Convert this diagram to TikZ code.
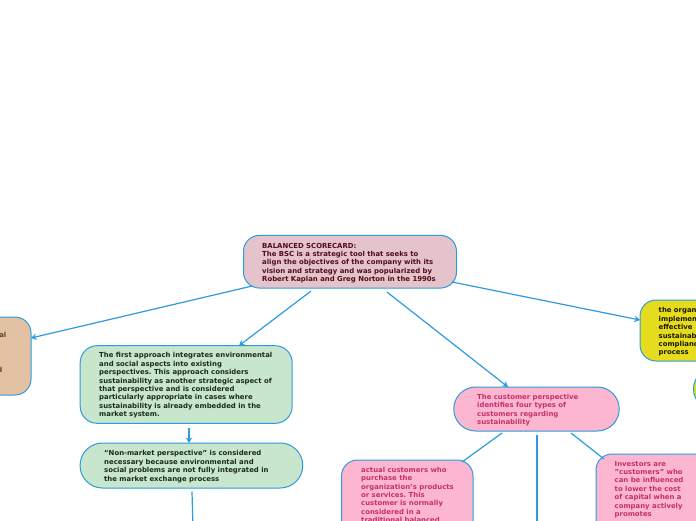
\documentclass[tikz,border=0pt]{standalone}
\usepackage{fontspec}
\setmainfont{DejaVu Sans}
\usetikzlibrary{arrows.meta}
\frenchspacing
\definecolor{edgeblue}{HTML}{2D9BE0}
\definecolor{rootfill}{HTML}{E4C4CA}
\definecolor{roottext}{HTML}{500C20}
\definecolor{tanfill}{HTML}{E2C2A2}
\definecolor{tantext}{HTML}{5A4634}
\definecolor{greenfill}{HTML}{C8E6CC}
\definecolor{greentext}{HTML}{1C2A1C}
\definecolor{pinkfill}{HTML}{FCB6D0}
\definecolor{pinktext}{HTML}{C4306C}
\definecolor{yellowfill}{HTML}{E4DC1C}
\definecolor{yellowtext}{HTML}{1A1A00}
\definecolor{limefill}{HTML}{D8E020}
\tikzset{
  box/.style={draw=edgeblue, line width=1pt, rectangle, inner sep=0pt, outer sep=0pt},
  txt/.style={anchor=north west, inner sep=0pt, align=left,
    font=\fontsize{6.9}{8.4}\selectfont\bfseries},
  link/.style={draw=edgeblue, line width=1.2pt},
  arr/.style={link, -{Stealth[length=5.5pt,width=6.5pt]}}
}
\begin{document}
\begin{tikzpicture}[x=1pt,y=-1pt]
\useasboundingbox (0,0) rectangle (696,520);
\clip (0,0) rectangle (696,520);
\fill[white] (0,0) rectangle (696,520);

% boxes
\node[box, fill=rootfill, rounded corners=16pt, minimum width=213pt, minimum height=52.7pt] (root) at (350,261.7) {};
\node[box, fill=tanfill, rounded corners=16pt, minimum width=121pt, minimum height=78pt] (tan) at (-29.5,356) {};
\node[box, fill=greenfill, rounded corners=17pt, minimum width=212pt, minimum height=77.6pt] (green1) at (186.2,384.5) {};
\node[box, fill=greenfill, rounded corners=22.5pt, minimum width=222.7pt, minimum height=45pt] (green2) at (191.4,465.5) {};
\node[box, fill=pinkfill, rounded corners=22pt, minimum width=165.5pt, minimum height=44pt] (cust) at (536.5,409) {};
\node[box, fill=yellowfill, rounded corners=16pt, minimum width=140pt, minimum height=61pt] (yellow) at (710,330.5) {};
\node[box, fill=limefill, rounded corners=21pt, minimum width=133pt, minimum height=42pt] (lime) at (760,389) {};
\node[box, fill=pinkfill, rounded corners=16pt, minimum width=131.5pt, minimum height=120pt] (actual) at (407.25,520) {};
\node[box, fill=pinkfill, rounded corners=16pt, minimum width=134pt, minimum height=126pt] (invest) at (663,517) {};

% texts
\node[txt, text=roottext] (rootT) at (262,242.8) {BALANCED SCORECARD:\\The BSC is a strategic tool that seeks to\\align the objectives of the company with its\\vision and strategy and was popularized by\\Robert Kaplan and Greg Norton in the 1990s};
\node[txt, anchor=base east, text=tantext] (tanA) at (6.5,337) {al};
\node[txt, anchor=base east, text=tantext] (tanB) at (2.5,372) {d};
\node[txt, text=greentext] (green1T) at (99,352.5) {The first approach integrates environmental\\and social aspects into existing\\perspectives. This approach considers\\sustainability as another strategic aspect of\\that perspective and is considered\\particularly appropriate in cases where\\sustainability is already embedded in the\\market system.};
\node[txt, text=greentext] (green2T) at (104,450.5) {“Non-market perspective” is considered\\necessary because environmental and\\social problems are not fully integrated in\\the market exchange process};
\node[txt, text=pinktext] (custT) at (477,393.8) {The customer perspective\\identifies four types of\\customers regarding\\sustainability};
\node[txt, text=yellowtext] (yellowT) at (658.5,307.5) {the organization\\implements\\effective\\sustainability\\compliance\\process};
\node[txt, text=pinktext] (actualT) at (361,466.8) {actual customers who\\purchase the\\organization’s products\\or services. This\\customer is normally\\considered in a\\traditional balanced};
\node[txt, text=pinktext] (investT) at (614.5,460.8) {Investors are\\"customers" who\\can be influenced\\to lower the cost\\of capital when a\\company actively\\promotes};

% free ends
\coordinate (g2down) at (193,530);
\coordinate (custdown) at (537,530);

% connectors
\draw[arr] ([xshift=-98pt,yshift=2pt]root.south) -- ([yshift=18pt]tan.east);
\draw[arr] ([xshift=-39pt,yshift=-3pt]root.south) -- ([xshift=52.8pt]green1.north);
\draw[arr] ([xshift=37pt,yshift=-4pt]root.south) -- ([xshift=-28.5pt]cust.north);
\draw[arr] ([xshift=-4.5pt,yshift=-20.3pt]root.east) -- ([yshift=10.5pt]yellow.west);
\draw[arr] ([xshift=2.8pt,yshift=-4.7pt]green1.south) -- ([xshift=-2.4pt]green2.north);
\draw[link] ([xshift=0.6pt,yshift=-3.5pt]green2.south) -- (g2down);
\draw[link] ([xshift=-34.5pt,yshift=-2pt]cust.south) -- ([xshift=54.75pt,yshift=-2pt]actual.north);
\draw[link] ([xshift=0.5pt,yshift=-4pt]cust.south) -- (custdown);
\draw[link] ([xshift=34.5pt,yshift=-2pt]cust.south) -- ([xshift=-59pt,yshift=-5pt]invest.north);
\end{tikzpicture}
\end{document}
